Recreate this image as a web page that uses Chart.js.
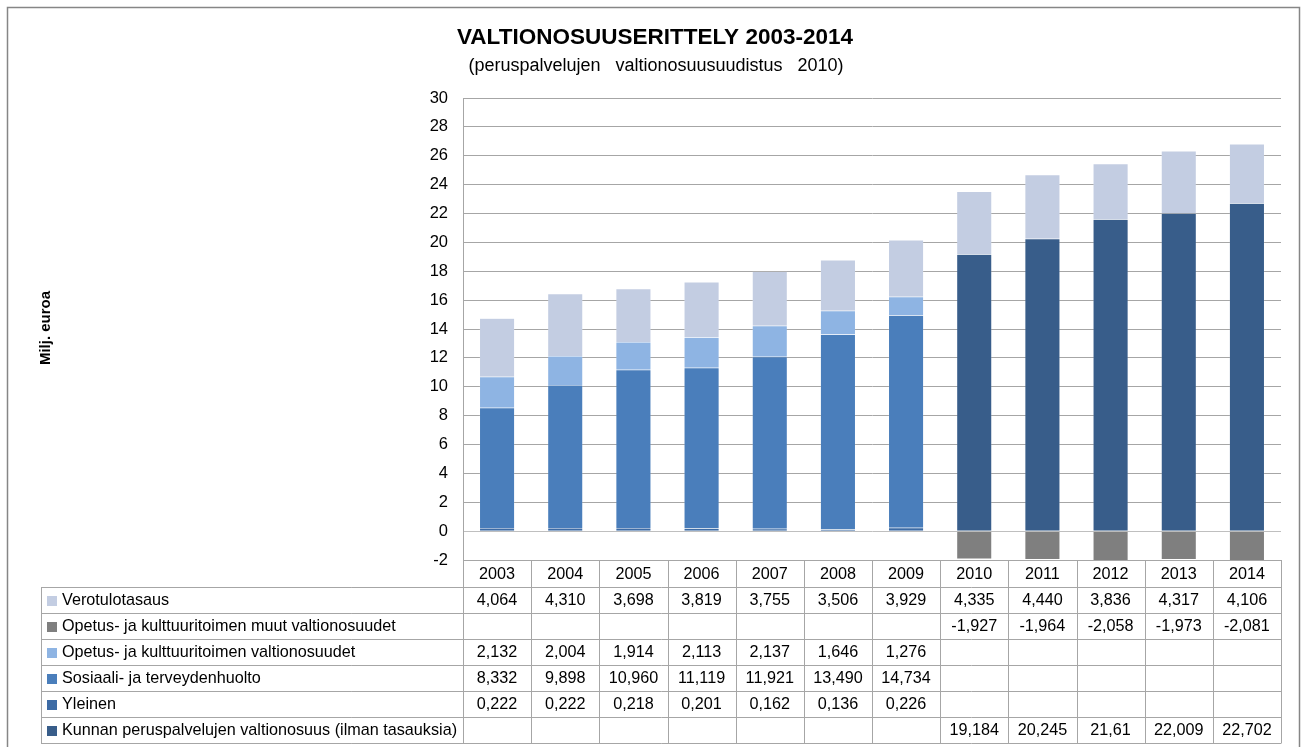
<!DOCTYPE html>
<html><head><meta charset="utf-8">
<script src="https://cdn.jsdelivr.net/npm/chart.js@4/dist/chart.umd.min.js"></script>
<style>html,body{margin:0;padding:0;background:#fff;}#wrap{width:1302px;height:747px;position:relative;}</style>
</head><body><div id="wrap"><canvas id="c" width="1302" height="747"></canvas></div>
<script>
const years = ['2003','2004','2005','2006','2007','2008','2009','2010','2011','2012','2013','2014'];
const verotulotasaus = [4.064,4.310,3.698,3.819,3.755,3.506,3.929,4.335,4.440,3.836,4.317,4.106];
const opetusMuut = [null,null,null,null,null,null,null,-1.927,-1.964,-2.058,-1.973,-2.081];
const opetus = [2.132,2.004,1.914,2.113,2.137,1.646,1.276,null,null,null,null,null];
const sosiaali = [8.332,9.898,10.960,11.119,11.921,13.490,14.734,null,null,null,null,null];
const yleinen = [0.222,0.222,0.218,0.201,0.162,0.136,0.226,null,null,null,null,null];
const kunnan = [null,null,null,null,null,null,null,19.184,20.245,21.61,22.009,22.702];
const yTicks = [-2,0,2,4,6,8,10,12,14,16,18,20,22,24,26,28,30];

const tableRows = [
  {label:'Verotulotasaus', data:verotulotasaus, color:'#C3CDE2'},
  {label:'Opetus- ja kulttuuritoimen muut valtionosuudet', data:opetusMuut, color:'#7F7F7F'},
  {label:'Opetus- ja kulttuuritoimen valtionosuudet', data:opetus, color:'#8EB4E3'},
  {label:'Sosiaali- ja terveydenhuolto', data:sosiaali, color:'#4A7EBB'},
  {label:'Yleinen', data:yleinen, color:'#3D6BA5'},
  {label:'Kunnan peruspalvelujen valtionosuus (ilman tasauksia)', data:kunnan, color:'#385D8A'}
];

function cellText(v){
  if(v===null) return '';
  if(v===21.61) return '21,61';
  return v.toFixed(3).replace('.',',');
}

const FONT = '"Liberation Sans", Arial, sans-serif';

const decor = {
  id:'decor',
  beforeDraw(chart){
    const ctx = chart.ctx;
    ctx.save(); ctx.fillStyle='#fff'; ctx.fillRect(0,0,chart.width,chart.height); ctx.restore();
  },
  afterDraw(chart){
    const ctx = chart.ctx;
    const xs = chart.scales.x;
    const ca = chart.chartArea;
    ctx.save();
    ctx.strokeStyle='#868686'; ctx.lineWidth=1.5;
    ctx.strokeRect(7.5,7.5,1292,760);
    ctx.fillStyle='#000'; ctx.textAlign='center'; ctx.textBaseline='middle';
    ctx.font='bold 22.5px '+FONT;
    ctx.fillText('VALTIONOSUUSERITTELY 2003-2014', 655, 38);
    ctx.font='18px '+FONT;
    ctx.fillText('(peruspalvelujen   valtionosuusuudistus   2010)', 656, 66);
    ctx.save();
    ctx.translate(46, 328); ctx.rotate(-Math.PI/2);
    ctx.font='bold 15px '+FONT;
    ctx.fillText('Milj. euroa', 0, 0);
    ctx.restore();

    const top = ca.bottom;
    const headerH = 27, rowH = 26, tLeft = 41;
    const n = years.length;
    const step = (xs.getPixelForValue(1)-xs.getPixelForValue(0));
    const bounds = [];
    for(let i=0;i<=n;i++) bounds.push(Math.round(xs.getPixelForValue(i)-step/2)+0.5);
    const bottom = top + headerH + rowH*tableRows.length;
    ctx.strokeStyle='#A6A6A6'; ctx.lineWidth=1;
    ctx.beginPath();
    for(let i=0;i<=n;i++){ ctx.moveTo(bounds[i], top); ctx.lineTo(bounds[i], bottom); }
    ctx.moveTo(tLeft+0.5, top+headerH); ctx.lineTo(tLeft+0.5, bottom);
    ctx.moveTo(bounds[0], top+0.5); ctx.lineTo(bounds[n], top+0.5);
    for(let r=0;r<=tableRows.length;r++){
      const y = Math.round(top+headerH+r*rowH)+0.5;
      ctx.moveTo(tLeft, y); ctx.lineTo(bounds[n], y);
    }
    ctx.stroke();
    ctx.fillStyle='#000'; ctx.font='16.2px '+FONT; ctx.textAlign='center'; ctx.textBaseline='middle';
    for(let i=0;i<n;i++) ctx.fillText(years[i], xs.getPixelForValue(i), top+headerH/2+1);
    tableRows.forEach((row, r)=>{
      const cy = top+headerH+r*rowH+rowH/2+1;
      ctx.fillStyle=row.color;
      ctx.fillRect(47, cy-5, 10, 10);
      ctx.fillStyle='#000'; ctx.textAlign='left';
      ctx.fillText(row.label, 62, cy);
      ctx.textAlign='center';
      row.data.forEach((v,i)=>{ if(v!==null) ctx.fillText(cellText(v), xs.getPixelForValue(i), cy); });
    });
    ctx.restore();
  }
};

const ds = (label, data, color) => ({label, data, backgroundColor:color, borderColor:'rgba(255,255,255,0.35)', borderWidth:0.5, stack:'s', categoryPercentage:1, barPercentage:0.515});

new Chart(document.getElementById('c'), {
  type:'bar',
  data:{
    labels: years,
    datasets:[
      ds('Yleinen', yleinen, '#3D6BA5'),
      ds('Kunnan peruspalvelujen valtionosuus (ilman tasauksia)', kunnan, '#385D8A'),
      ds('Sosiaali- ja terveydenhuolto', sosiaali, '#4A7EBB'),
      ds('Opetus- ja kulttuuritoimen valtionosuudet', opetus, '#8EB4E3'),
      ds('Opetus- ja kulttuuritoimen muut valtionosuudet', opetusMuut, '#7F7F7F'),
      ds('Verotulotasaus', verotulotasaus, '#C3CDE2')
    ]
  },
  options:{
    responsive:false, animation:false,
    layout:{padding:{left:0,right:21,top:98,bottom:187}},
    plugins:{legend:{display:false}, tooltip:{enabled:false}, title:{display:false}},
    scales:{
      x:{stacked:true, grid:{display:false, drawTicks:false}, border:{display:false}, ticks:{display:false}},
      y:{stacked:true, min:-2, max:30, afterBuildTicks(s){ s.ticks = yTicks.map(v=>({value:v})); },
         afterFit(s){ s.width = 463; },
         grid:{color:(c)=> c.tick && c.tick.value===0 ? '#BFBFBF' : '#A6A6A6', lineWidth:1, drawTicks:false},
         border:{display:true, color:'#A6A6A6'},
         ticks:{font:{family:FONT, size:16.5}, color:'#000', padding:15, callback:(v)=>String(v)}}
    }
  },
  plugins:[decor]
});
</script></body></html>
